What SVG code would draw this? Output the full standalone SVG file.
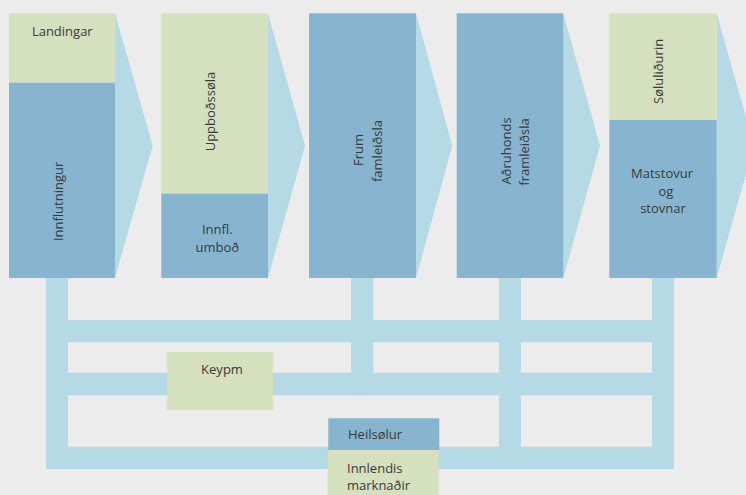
<svg xmlns="http://www.w3.org/2000/svg" width="746" height="495" viewBox="0 0 746 495">
<style>
.bg{fill:#ececec}
.blue{fill:#87b5d0}
.green{fill:#d5e0bf}
.pipe{fill:#b6dae5}
text{font-family:"Open Sans","Noto Sans","Liberation Sans",sans-serif;font-size:13px;fill:#3a3a3a}
.c{text-anchor:middle}
</style>
<rect class="bg" x="0" y="0" width="746" height="495"/>
<g id="connectors">
<polygon class="pipe" points="115,13.3 152.7,145.7 115,278"/>
<polygon class="pipe" points="268,13.3 305,145.7 268,278"/>
<polygon class="pipe" points="416,13.3 452.3,145.7 416,278"/>
<polygon class="pipe" points="563.3,13.3 600,145.7 563.3,278"/>
<polygon class="pipe" points="716.7,13.3 754,145.7 716.7,278"/>
<rect class="pipe" x="46" y="277.5" width="22" height="191.5"/>
<rect class="pipe" x="652" y="277.5" width="22" height="191.5"/>
<rect class="pipe" x="351" y="277.5" width="22.3" height="117.8"/>
<rect class="pipe" x="499" y="277.5" width="22" height="191.5"/>
<rect class="pipe" x="68" y="320" width="584" height="22.3"/>
<rect class="pipe" x="68" y="372.7" width="584" height="22.6"/>
<rect class="pipe" x="46" y="446.7" width="628" height="22.3"/>
</g>
<g id="stage-1">
<rect class="green" x="9" y="13.3" width="106" height="69.4"/>
<rect class="blue" x="9" y="82.7" width="106" height="195.3"/>
<text class="c" x="62.3" y="36">Landingar</text>
<text class="c" x="63" y="201.4" transform="rotate(-90 63 201.4)">Innflutningur</text>
</g>
<g id="stage-2">
<rect class="green" x="161.3" y="13.3" width="106.7" height="180.4"/>
<rect class="blue" x="161.3" y="193.7" width="106.7" height="84.3"/>
<text class="c" x="215" y="111.5" transform="rotate(-90 215 111.5)">Uppboðssøla</text>
<text class="c" x="217.3" y="234.3">Innfl.</text>
<text class="c" x="217.3" y="251.7">umboð</text>
</g>
<g id="stage-3">
<rect class="blue" x="309" y="13.3" width="107" height="264.7"/>
<text class="c" x="363.3" y="150" transform="rotate(-90 363.3 150)">Frum</text>
<text class="c" x="381.7" y="151" transform="rotate(-90 381.7 151)">famleiðsla</text>
</g>
<g id="stage-4">
<rect class="blue" x="456.7" y="13.3" width="106.6" height="264.7"/>
<text class="c" x="510.7" y="151" transform="rotate(-90 510.7 151)">Aðruhonds</text>
<text class="c" x="529.3" y="152" transform="rotate(-90 529.3 152)">framleiðsla</text>
</g>
<g id="stage-5">
<rect class="green" x="609.3" y="13.3" width="107.4" height="106.7"/>
<rect class="blue" x="609.3" y="120" width="107.4" height="158"/>
<text class="c" x="663.3" y="71.4" transform="rotate(-90 663.3 71.4)">Søluliðurin</text>
<text class="c" x="662" y="178.3">Matstovur</text>
<text class="c" x="666" y="195.7">og</text>
<text class="c" x="663" y="213.2">stovnar</text>
</g>
<g id="keypm">
<rect class="green" x="167" y="352" width="106" height="58"/>
<text class="c" x="222" y="374">Keypm</text>
</g>
<g id="heilsolur">
<rect class="blue" x="328.3" y="418.3" width="111" height="31.7"/>
<text x="348" y="439">Heilsølur</text>
</g>
<g id="innlendis">
<rect class="green" x="327.7" y="450" width="111" height="45"/>
<text x="347" y="473.3">Innlendis</text>
<text x="347" y="490">marknaðir</text>
</g>
</svg>
